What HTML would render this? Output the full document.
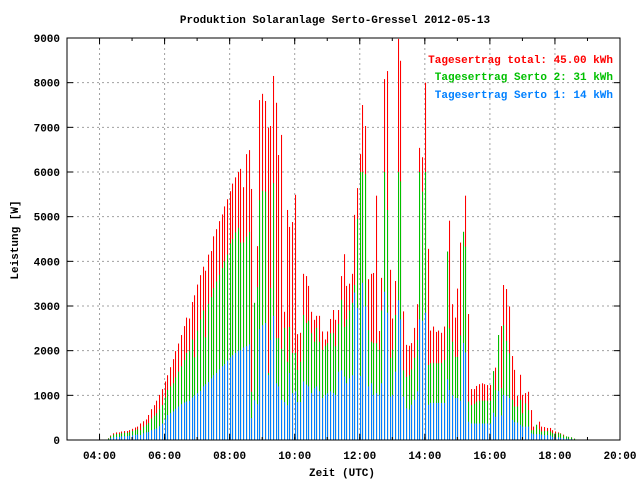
<!DOCTYPE html>
<html><head><meta charset="utf-8"><style>
body{margin:0;background:#fff;}
svg text{font-family:"Liberation Mono",monospace;font-weight:bold;font-size:11px;}
</style></head><body>
<svg id="chart" width="640" height="480" xmlns="http://www.w3.org/2000/svg">
<rect width="640" height="480" fill="#fff"/>
<g id="grid"></g><g id="bars"></g><g id="axes"></g>
<text x="335" y="23" text-anchor="middle">Produktion Solaranlage Serto-Gressel 2012-05-13</text>
<text x="342" y="476" text-anchor="middle">Zeit (UTC)</text>
<text transform="translate(18,240) rotate(-90)" text-anchor="middle">Leistung [W]</text>
<text x="613" y="63" text-anchor="end" fill="#ff0000">Tagesertrag total: 45.00 kWh</text>
<text x="613" y="80" text-anchor="end" fill="#00c000">Tagesertrag Serto 2: 31 kWh</text>
<text x="613" y="98" text-anchor="end" fill="#0080ff">Tagesertrag Serto 1: 14 kWh</text>
</svg>
<script>
const startMinutes = 255; // 04:15, step 5 min
const stepMinutes = 5;
const totalW = [40,100,150,170,170,190,200,200,220,250,280,300,370,420,460,560,690,780,880,1010,1140,1310,1450,1630,1810,1990,2160,2350,2550,2740,2720,3090,3240,3480,3690,3880,3790,4150,4230,4560,4720,4900,5050,5230,5390,5570,5740,5880,6000,6070,5660,6400,6490,5620,3070,4340,7610,7750,7590,6990,7030,8150,7550,6380,6830,2870,5150,4770,4880,5490,2370,2400,3720,3670,3450,2870,2690,2780,2780,2430,2250,2430,2710,2910,2690,2910,3670,4160,3450,3500,3720,5040,5640,6400,7500,7030,3600,3720,3740,5470,2440,3630,8080,8260,3810,2720,3560,8980,8490,2880,2130,2110,2170,2510,3040,6540,6330,8000,4280,2450,2540,2420,2450,2400,2540,4220,4910,3040,2740,3390,4420,4660,5470,2820,1140,1140,1210,1250,1270,1250,1230,1230,1540,1620,2350,2550,3470,3380,2990,1880,1570,990,1460,1010,1050,1080,670,300,340,410,300,290,270,270,220,190,170,150,120,80,70,60,30];
const serto2W = [35,80,120,135,135,150,160,160,175,200,220,240,220,300,340,380,480,540,600,690,780,950,1120,1200,1270,1400,1530,1650,1790,1950,2000,2250,1850,2450,2700,2900,2300,3050,3200,3400,3550,3700,3850,4000,4150,4400,4500,4650,4750,4420,4420,4550,4660,1080,3070,3420,5370,5580,5560,1500,3400,5750,2280,2280,2040,2510,1750,2530,1950,1950,1570,1750,2800,2620,2670,2390,2200,2510,2200,2020,2110,2170,2390,2390,2100,2600,3140,2530,2700,2900,3070,3470,4950,6000,6000,5950,2460,2200,2170,2170,2020,2900,6000,5150,1840,2020,2800,6000,5790,1560,1410,1450,1580,1840,2240,6000,5560,6000,1680,1720,1720,1720,1720,1720,1790,4220,2500,2200,1860,1860,2340,4660,4330,860,780,810,860,880,880,880,880,880,1540,1120,2350,1160,2570,2220,1940,900,750,750,900,600,820,670,220,220,340,240,190,200,200,190,150,150,150,140,100,80,70,60,30];
const serto1W = [15,40,60,70,70,80,85,85,95,105,115,125,110,150,170,180,220,240,260,310,370,460,560,600,640,700,750,800,840,860,880,950,1000,1050,1100,1200,1250,1300,1380,1450,1500,1580,1650,1700,1780,1850,1900,1950,2000,2010,2070,2100,2140,490,890,800,2480,2570,2620,1450,2240,2780,1270,1200,900,850,780,1500,1050,1090,850,850,1310,1240,1200,1050,1160,1200,1090,940,1010,1050,1090,1050,1010,1530,1560,1420,1270,1380,1450,3300,2960,1430,3520,2990,1200,1270,1010,1050,1010,1270,3320,2850,970,1010,1530,3130,2700,970,710,680,790,900,1090,2700,2670,2850,790,830,830,830,830,830,830,1360,1120,1000,940,940,880,2170,1960,410,370,370,370,370,370,370,370,370,610,520,1100,550,1010,990,940,450,400,390,340,300,300,300,150,130,130,130,120,110,110,100,70,60,60,50,40,30,25,20,10];
const yTicks = [0,1000,2000,3000,4000,5000,6000,7000,8000,9000];
const xTickLabels = ["04:00","06:00","08:00","10:00","12:00","14:00","16:00","18:00","20:00"];
const xTickHours = [4,6,8,10,12,14,16,18,20];

const L=67,R=620,T=38,B=440,xMin=3*60,xMax=20*60,yMax=9000;
const xs=m=>L+(m-xMin)/(xMax-xMin)*(R-L);
const ys=v=>B-v/yMax*(B-T);
const NS="http://www.w3.org/2000/svg";
function mk(tag,attrs,parent){const e=document.createElementNS(NS,tag);for(const k in attrs)e.setAttribute(k,attrs[k]);parent.appendChild(e);return e;}
const grid=document.getElementById('grid'),bars=document.getElementById('bars'),axes=document.getElementById('axes');
yTicks.forEach(v=>{
  const y=ys(v);
  if(v>0&&v<yMax){const g=mk('line',{x1:L,x2:R,y1:y,y2:y,stroke:'#a0a0a0','stroke-dasharray':'2,3'},grid);
  
  }
  const t=mk('text',{x:L-7,y:y+4,'text-anchor':'end'},axes);t.textContent=v;
  
  
  mk('line',{x1:L,x2:L+6,y1:y,y2:y,stroke:'#000'},axes);
  mk('line',{x1:R,x2:R-6,y1:y,y2:y,stroke:'#000'},axes);
});
xTickHours.forEach((h,i)=>{
  const x=xs(h*60);
  if(h<20){const g=mk('line',{x1:x,x2:x,y1:T,y2:B,stroke:'#a0a0a0','stroke-dasharray':'2,3'},grid);
  
  }
  const t=mk('text',{x:x,y:B+19,'text-anchor':'middle'},axes);t.textContent=xTickLabels[i];
  
  
  mk('line',{x1:x,x2:x,y1:B,y2:B-6,stroke:'#000'},axes);
  mk('line',{x1:x,x2:x,y1:T,y2:T+6,stroke:'#000'},axes);
});
for(let h=3;h<=20;h++){const x=xs(h*60);
  mk('line',{x1:x,x2:x,y1:B,y2:B-3,stroke:'#000'},axes);
  mk('line',{x1:x,x2:x,y1:T,y2:T+3,stroke:'#000'},axes);}
const series=[[totalW,'#ff0000','bar-total'],[serto2W,'#00c000','bar-serto2'],[serto1W,'#0080ff','bar-serto1']];
series.forEach(([arr,col,name])=>{
  arr.forEach((v,i)=>{
    const x=Math.round(xs(startMinutes+i*stepMinutes));
    const r=mk('rect',{x:x,y:ys(v),width:1.05,height:B-ys(v),fill:col},bars);
    
    
  });
});
const fr=mk('rect',{x:L,y:T,width:R-L,height:B-T,fill:'none',stroke:'#000','stroke-width':1},axes);


</script>
</body></html>
